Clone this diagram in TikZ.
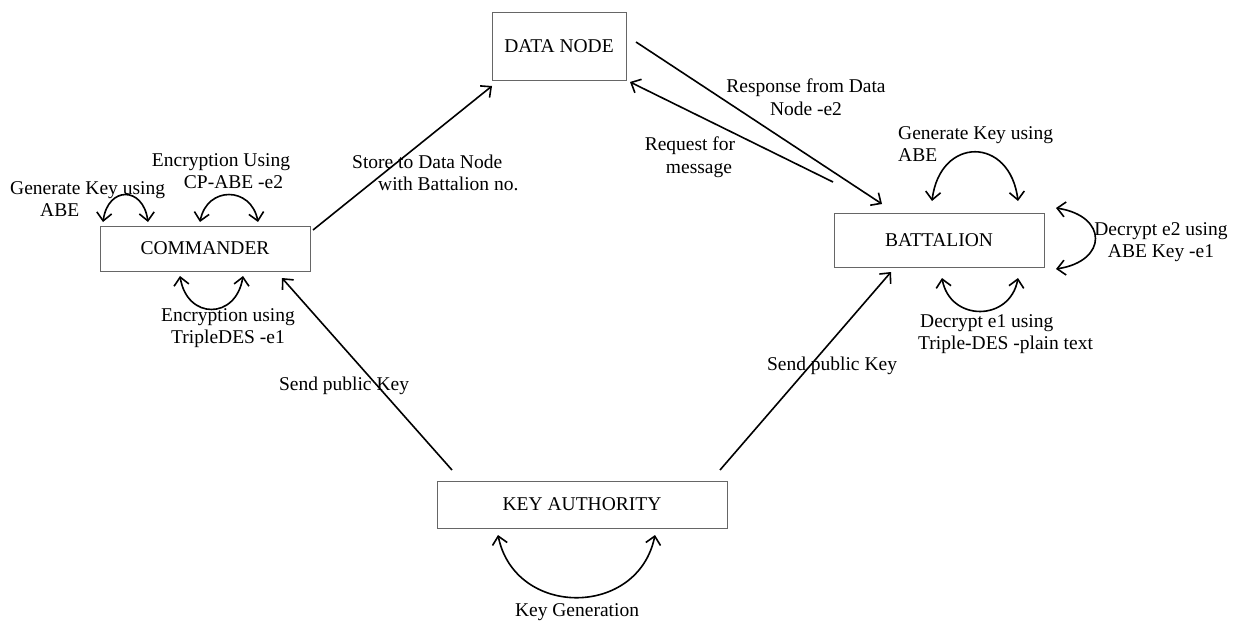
\documentclass[tikz,border=0pt]{standalone}
\usepackage{fontspec}
\setmainfont{Liberation Serif}
\usetikzlibrary{arrows.meta}
\begin{document}
\begin{tikzpicture}[x=1pt,y=-1pt,
  box/.style={draw=black!60,line width=0.9pt,inner sep=0,font=\fontsize{19.5}{22}\selectfont},
  lbl/.style={inner sep=0,font=\fontsize{19.5}{22.5}\selectfont,align=center},
  conn/.style={line width=1.6pt,-{Straight Barb[length=8pt,width=15pt,line width=1.6pt]}},
  loop/.style={line width=1.6pt,{Straight Barb[length=8pt,width=15pt,line width=1.6pt]}-{Straight Barb[length=8pt,width=15pt,line width=1.6pt]}}]
\useasboundingbox (0,0) rectangle (1236,626);
% boxes
\node[box,minimum width=134pt,minimum height=68pt] (dn) at (559,46) {DATA NODE};
\node[box,minimum width=210pt,minimum height=45pt] (cmd) at (205,248.5) {COMMANDER};
\node[box,minimum width=210pt,minimum height=54pt] (bat) at (939,240) {BATTALION};
\node[box,minimum width=290pt,minimum height=47pt] (ka) at (582,504.5) {KEY AUTHORITY};
% connector end points
\coordinate (c1) at (313,230);
\coordinate (d1) at (492,86);
\coordinate (d2) at (636,42);
\coordinate (b1) at (882,204);
\coordinate (b2) at (833,182);
\coordinate (d3) at (630,82);
\coordinate (k1) at (452,470);
\coordinate (c2) at (282,278);
\coordinate (k2) at (720,470);
\coordinate (b3) at (891,272);
\draw[conn] (c1) -- (d1);
\draw[conn] (d2) -- (b1);
\draw[conn] (b2) -- (d3);
\draw[conn] (k1) -- (c2);
\draw[conn] (k2) -- (b3);
% self loops
\coordinate (l1a) at (103,222); \coordinate (l1b) at (148,222);
\draw[loop] (l1a) .. controls (108,186) and (143,186) .. (l1b);
\coordinate (l2a) at (200,222); \coordinate (l2b) at (258,222);
\draw[loop] (l2a) .. controls (207,186) and (251,186) .. (l2b);
\coordinate (l3a) at (180,276); \coordinate (l3b) at (243,276);
\draw[loop] (l3a) .. controls (187,320) and (236,320) .. (l3b);
\coordinate (l4a) at (932,201); \coordinate (l4b) at (1018,201);
\draw[loop] (l4a) .. controls (940,136) and (1010,136) .. (l4b);
\coordinate (l5a) at (1056,208); \coordinate (l5b) at (1056,269);
\draw[loop] (l5a) .. controls (1108,216) and (1108,261) .. (l5b);
\coordinate (l6a) at (942,278); \coordinate (l6b) at (1018,278);
\draw[loop] (l6a) .. controls (950,322) and (1010,322) .. (l6b);
\coordinate (l7a) at (498,535); \coordinate (l7b) at (655,535);
\draw[loop] (l7a) .. controls (515,618) and (638,618) .. (l7b);
% labels
\node[lbl,align=left,anchor=west] (t1) at (10,199) {Generate Key using\\\hspace*{30pt}ABE};
\node[lbl] (t2) at (221,171) {Encryption Using\\\hspace*{25pt}CP-ABE -e2};
\node[lbl] (t3) at (228,328) {Encryption using\\TripleDES -e1};
\node[lbl,align=left,anchor=west] (t4) at (352,173) {Store to Data Node\\\hspace*{26pt}with Battalion no.};
\node[lbl] (t5) at (806,97) {Response from Data\\Node -e2};
\node[lbl] (t6) at (690,157) {Request for\\\hspace*{18pt}message};
\node[lbl,align=left,anchor=west] (t7) at (898,144) {Generate Key using\\ABE};
\node[lbl] (t8) at (1161,242) {Decrypt e2 using\\ABE Key -e1};
\node[lbl,align=left,anchor=west] (t9) at (918,334) {\hspace*{2pt}Decrypt e1 using\\Triple-DES -plain text};
\node[lbl] (t10) at (344,386) {Send public Key};
\node[lbl] (t11) at (832,366) {Send public Key};
\node[lbl] (t12) at (577,612) {Key Generation};
\end{tikzpicture}
\end{document}
